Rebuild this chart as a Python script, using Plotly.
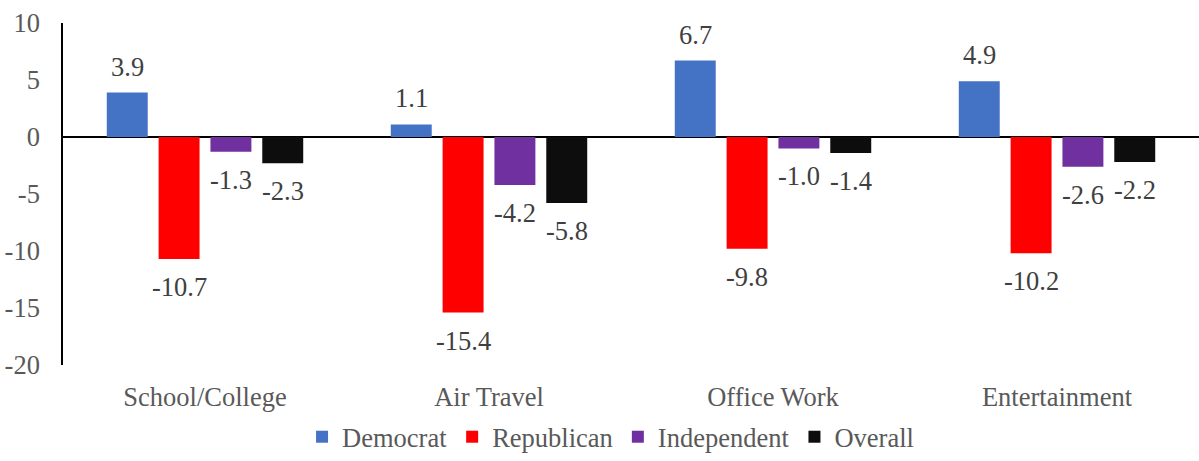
import plotly.graph_objects as go

categories = ["School/College", "Air Travel", "Office Work", "Entertainment"]
democrat = [3.9, 1.1, 6.7, 4.9]
republican = [-10.7, -15.4, -9.8, -10.2]
independent = [-1.3, -4.2, -1.0, -2.6]
overall = [-2.3, -5.8, -1.4, -2.2]
ytick_vals = [-20, -15, -10, -5, 0, 5, 10]
ytick_text = ["-20", "-15", "-10", "-5", "0", "5", "10"]

series = [
    ("Democrat", democrat, "#4472C4"),
    ("Republican", republican, "#FF0000"),
    ("Independent", independent, "#7030A0"),
    ("Overall", overall, "#0D0D0D"),
]

FONT = "Liberation Serif"
FS = 26.5
BARGAP = 0.27
BARGROUPGAP = 0.21

fig = go.Figure()
for name, vals, color in series:
    fig.add_trace(go.Bar(
        name=name,
        x=categories,
        y=vals,
        marker=dict(color=color, line=dict(width=0)),
    ))

# data labels placed through the axis scales, offset from the bar ends
n = len(series)
slot = (1 - BARGAP) / n
for j, (name, vals, color) in enumerate(series):
    for i, v in enumerate(vals):
        fig.add_annotation(
            x=i + (j - (n - 1) / 2) * slot,
            y=v,
            xref="x",
            yref="y",
            text=f"{v:.1f}",
            showarrow=False,
            yanchor="bottom" if v >= 0 else "top",
            yshift=9 if v >= 0 else -11,
            font=dict(family=FONT, size=FS, color="#404040"),
        )

fig.update_layout(
    barmode="group",
    bargap=BARGAP,
    bargroupgap=BARGROUPGAP,
    width=1199,
    height=461,
    margin=dict(l=63, r=0, t=23, b=96, autoexpand=False),
    paper_bgcolor="white",
    plot_bgcolor="white",
    font=dict(family=FONT, size=FS, color="#595959"),
    legend=dict(
        orientation="h",
        x=0.482,
        xanchor="center",
        yref="container",
        y=-0.008,
        yanchor="bottom",
        font=dict(family=FONT, size=FS, color="#595959"),
        itemwidth=30,
        traceorder="normal",
    ),
    xaxis=dict(
        automargin=False,
        showline=False,
        showgrid=False,
        ticks="",
        tickfont=dict(family=FONT, size=FS, color="#595959"),
        ticklabelstandoff=13,
    ),
    yaxis=dict(
        automargin=False,
        range=[-20, 10],
        tickmode="array",
        tickvals=ytick_vals,
        ticktext=ytick_text,
        showgrid=False,
        showline=True,
        linecolor="black",
        linewidth=1.5,
        zeroline=True,
        zerolinecolor="black",
        zerolinewidth=1.5,
        ticks="",
        tickfont=dict(family=FONT, size=FS, color="#595959"),
        ticklabelstandoff=16,
    ),
)

fig.write_html("out.html", post_script="document.body.style.margin='0';",
               config={"displayModeBar": False})
